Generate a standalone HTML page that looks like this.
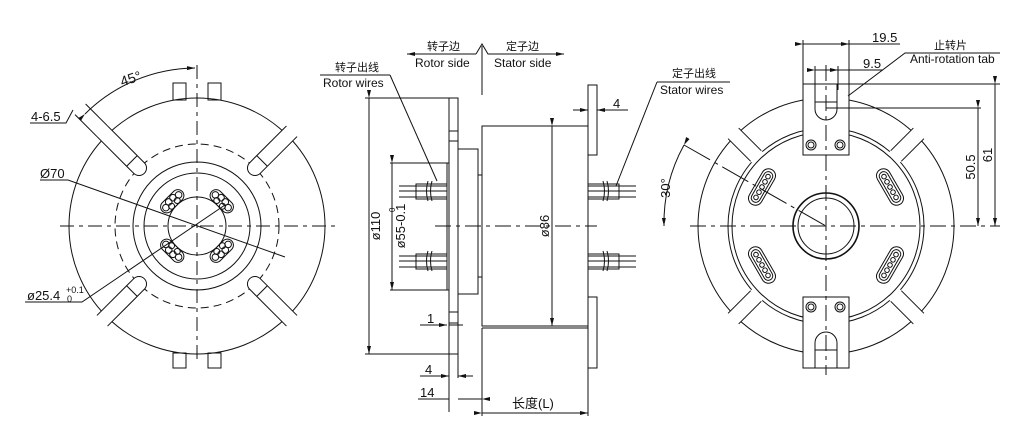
<!DOCTYPE html>
<html><head><meta charset="utf-8"><style>
html,body{margin:0;padding:0;background:#fff;}
svg{display:block;}
text{font-family:"Liberation Sans","Noto Sans CJK SC",sans-serif;fill:#111;}
</style></head><body>
<svg width="1024" height="448" viewBox="0 0 1024 448" xmlns="http://www.w3.org/2000/svg">
<defs>
<marker id="a" markerWidth="8" markerHeight="6" refX="8" refY="3" orient="auto" markerUnits="userSpaceOnUse"><path d="M0,1 L8,3 L0,5" fill="#111"/></marker>
<g id="ch" stroke="#111" fill="none">
<rect x="74" y="-7.5" width="60" height="15" fill="#fff" stroke="none"/>
<path d="M134,-7.5 L82,-7.5 A7.5,7.5 0 0 0 82,7.5 L134,7.5"/>
<line x1="92" y1="-7.5" x2="92" y2="7.5"/>
</g>
<g id="bg" stroke="#111" fill="none">
<rect x="-14" y="-41" width="28" height="12" rx="6"/>
<circle cx="-9" cy="-35" r="3.3"/><circle cx="-3" cy="-37" r="3.3"/><circle cx="3" cy="-37" r="3.3"/><circle cx="9" cy="-35" r="3.3"/>
<circle cx="-4" cy="-32" r="3"/><circle cx="4" cy="-32" r="3"/>
</g>
</defs>
<g stroke="#111" stroke-width="1" fill="none">
<g transform="translate(197,226)">
<circle r="128"/>
<circle r="82" stroke-dasharray="8,5"/>
<circle r="64"/>
<circle r="53"/>
<circle r="29"/>
<use href="#ch" transform="rotate(-45)"/>
<use href="#ch" transform="rotate(45)"/>
<use href="#ch" transform="rotate(135)"/>
<use href="#ch" transform="rotate(-135)"/>
<g transform="rotate(-135)">
<path d="M134,-7.5 L165,-7.5 M134,7.5 L165,7.5"/>
</g>
<use href="#bg" transform="rotate(-45)"/>
<use href="#bg" transform="rotate(45)"/>
<use href="#bg" transform="rotate(135)"/>
<use href="#bg" transform="rotate(-135)"/>
<rect x="-24" y="-143" width="13" height="17"/><rect x="11" y="-143" width="13" height="17"/>
<rect x="-24" y="127" width="13" height="15"/><rect x="11" y="127" width="13" height="15"/>
</g>
<line x1="60" y1="226" x2="340" y2="226" stroke-dasharray="14,5,4,5"/>
<line x1="197" y1="65" x2="197" y2="363" stroke-dasharray="14,5,4,5"/>
<path d="M85,114 A158,158 0 0 1 195,68" marker-start="url(#a)" marker-end="url(#a)"/>
<path d="M30,123 L66,123 L73,110"/>
<path d="M40,180 L68,180 L285,257" />
<path d="M25,302 L82,302 L225,205"/>
<rect x="449" y="98" width="9" height="256"/>
<line x1="449" y1="131" x2="458" y2="131"/><line x1="449" y1="141" x2="458" y2="141"/>
<line x1="449" y1="312" x2="458" y2="312"/><line x1="449" y1="323" x2="458" y2="323"/>
<rect x="447" y="163" width="2" height="127"/>
<rect x="458" y="149" width="20" height="145"/>
<rect x="478" y="175" width="4" height="102"/>
<rect x="482" y="126" width="106" height="200"/>
<rect x="588" y="85" width="9" height="70"/>
<rect x="588" y="297" width="9" height="71"/>
<line x1="435" y1="226" x2="597" y2="226" stroke-dasharray="16,5,4,5"/>
<g id="w">
<path d="M399,186 H447 M399,191 H447 M399,197 H447"/>
<rect x="416" y="184" width="31" height="15"/>
<path d="M428,181 q-3,10 0,20 M432,181 q-3,10 0,20" />
</g>
<use href="#w" transform="translate(0,70)"/>
<g transform="translate(1035,0) scale(-1,1)"><use href="#w"/><use href="#w" transform="translate(0,70)"/></g>
<line x1="365" y1="98" x2="449" y2="98"/><line x1="365" y1="354" x2="449" y2="354"/>
<line x1="369" y1="98" x2="369" y2="354" marker-start="url(#a)" marker-end="url(#a)"/>
<line x1="390" y1="163" x2="447" y2="163"/><line x1="390" y1="290" x2="447" y2="290"/>
<line x1="392" y1="163" x2="392" y2="290" marker-start="url(#a)" marker-end="url(#a)"/>
<line x1="552" y1="126" x2="552" y2="326" marker-start="url(#a)" marker-end="url(#a)"/>
<line x1="482" y1="328" x2="482" y2="416"/><line x1="588" y1="368" x2="588" y2="416"/>
<line x1="482" y1="328" x2="588" y2="328"/>
<line x1="482" y1="413" x2="588" y2="413" marker-start="url(#a)" marker-end="url(#a)"/>
<line x1="449" y1="354" x2="449" y2="412"/><line x1="458" y1="354" x2="458" y2="378"/>
<path d="M420,325 H447" marker-end="url(#a)"/><line x1="449" y1="325" x2="463" y2="325"/>
<path d="M420,376 H449" marker-end="url(#a)"/><path d="M473,376 H458" marker-end="url(#a)"/>
<path d="M418,399 H449" /><path d="M482,399 H458" marker-start="url(#a)"/>
<path d="M573,110 H588" marker-end="url(#a)"/><path d="M628,110 H597" marker-end="url(#a)"/>
<line x1="482" y1="46" x2="482" y2="95"/>
<path d="M476,54 L407,54" marker-end="url(#a)"/>
<path d="M476,54 L482,44 L488,54 L564,54" marker-end="url(#a)"/>
<line x1="320" y1="75" x2="390" y2="75"/><path d="M390,75 L437,181"/>
<line x1="657" y1="82" x2="730" y2="82"/><path d="M657,82 L616,186"/>
<g transform="translate(826,226)">
<circle r="128"/>
<circle r="98"/>
<circle r="94"/>
<circle r="33" stroke-width="1.6"/>
<circle r="28"/>
<g id="gap"><g transform="rotate(-45)"><rect x="97" y="-7.5" width="34" height="15" fill="#fff" stroke="none"/><path d="M99,-7.5 H131 M99,7.5 H131"/></g></g>
<use href="#gap" transform="rotate(90)"/><use href="#gap" transform="rotate(180)"/><use href="#gap" transform="rotate(270)"/>
<g id="ov">
<g transform="translate(-64,-39) rotate(-60)">
<rect x="-20" y="-7" width="40" height="14" rx="7"/>
<rect x="-17" y="-4.5" width="34" height="9" rx="4.5"/>
<circle cx="-12" r="2.3"/><circle cx="-6" r="2.3"/><circle cx="0" r="2.3"/><circle cx="6" r="2.3"/><circle cx="12" r="2.3"/>
</g></g>
<use href="#ov" transform="scale(-1,1)"/><use href="#ov" transform="scale(1,-1)"/><use href="#ov" transform="scale(-1,-1)"/>
<g id="tb">
<rect x="-23" y="-142" width="46" height="71" fill="#fff"/>
<path d="M-11,-142 V-117 A11,11 0 0 0 11,-117 V-142"/>
<line x1="-11" y1="-124" x2="11" y2="-124"/>
<circle cx="-15" cy="-81" r="5"/><circle cx="-15" cy="-81" r="3"/>
<circle cx="14" cy="-81" r="5"/><circle cx="14" cy="-81" r="3"/>
</g>
<use href="#tb" transform="scale(1,-1)"/>
</g>
<line x1="690" y1="226" x2="1000" y2="226" stroke-dasharray="16,5,4,5"/>
<line x1="826" y1="65" x2="826" y2="375" stroke-dasharray="16,5,4,5"/>
<line x1="684" y1="145" x2="826" y2="226" stroke-dasharray="30,5,4,5"/>
<path d="M684,145 A162,162 0 0 0 664,226" marker-start="url(#a)" marker-end="url(#a)"/>
<line x1="803" y1="40" x2="803" y2="84"/><line x1="849" y1="40" x2="849" y2="84"/>
<line x1="803" y1="44" x2="849" y2="44" marker-start="url(#a)" marker-end="url(#a)"/>
<line x1="849" y1="44" x2="900" y2="44"/>
<line x1="815" y1="66" x2="815" y2="90"/><line x1="838" y1="66" x2="838" y2="90"/>
<line x1="815" y1="70" x2="838" y2="70" marker-start="url(#a)" marker-end="url(#a)"/>
<line x1="838" y1="70" x2="883" y2="70"/>
<path d="M1000,53 H905 L848,96"/>
<line x1="849" y1="84" x2="1000" y2="84"/>
<line x1="826" y1="108" x2="981" y2="108"/>
<line x1="978" y1="108" x2="978" y2="226" marker-start="url(#a)" marker-end="url(#a)"/>
<line x1="995" y1="84" x2="995" y2="226" marker-start="url(#a)" marker-end="url(#a)"/>
</g>
<g font-size="13">
<text x="120" y="83" font-size="14" transform="rotate(-18 132 78)">45°</text>
<text x="31" y="121">4-6.5</text>
<text x="40" y="178">Ø70</text>
<text x="27" y="300">ø25.4</text>
<text x="66" y="293" font-size="9" font-family="Liberation Serif">+0.1</text>
<text x="67" y="302" font-size="9" font-family="Liberation Serif">0</text>
<text x="427" y="50" font-size="11">转子边</text>
<text x="506" y="50" font-size="11">定子边</text>
<text x="415" y="67" font-size="12">Rotor side</text>
<text x="494" y="67" font-size="12">Stator  side</text>
<text x="335" y="71" font-size="11">转子出线</text>
<text x="323" y="87" font-size="12">Rotor wires</text>
<text x="672" y="77" font-size="11">定子出线</text>
<text x="660" y="94" font-size="12">Stator wires</text>
<text transform="translate(380,226) rotate(-90)" text-anchor="middle">ø110</text>
<text transform="translate(405,226) rotate(-90)" text-anchor="middle">ø55-0.1</text>
<text transform="translate(395,212) rotate(-90)" font-size="8">0</text>
<text transform="translate(549,226) rotate(-90)" text-anchor="middle">ø86</text>
<text x="427" y="323">1</text>
<text x="425" y="374">4</text>
<text x="420" y="397">14</text>
<text x="512" y="408">长度(L)</text>
<text x="613" y="108">4</text>
<text x="872" y="42">19.5</text>
<text x="863" y="68">9.5</text>
<text x="934" y="49" font-size="11">止转片</text>
<text x="910" y="63" font-size="12">Anti-rotation tab</text>
<text transform="translate(975,167) rotate(-90)" text-anchor="middle">50.5</text>
<text transform="translate(992,155) rotate(-90)" text-anchor="middle">61</text>
<text transform="translate(670,188) rotate(-90)" text-anchor="middle">30°</text>
</g>
</svg>
</body></html>
